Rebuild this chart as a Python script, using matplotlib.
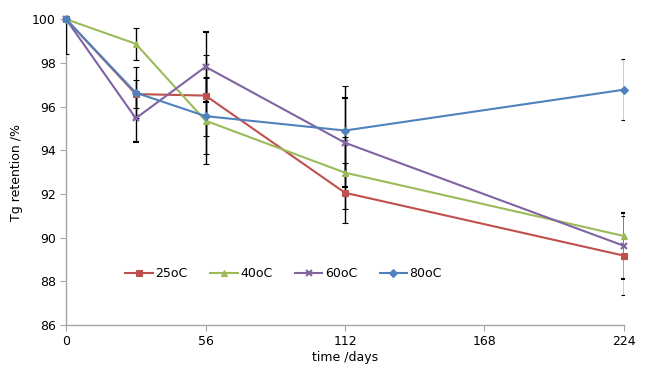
import matplotlib
matplotlib.use("Agg")
import matplotlib.pyplot as plt

days = [0, 28, 56, 112, 224]

tg_25 = [100.0, 96.57, 96.50, 92.05, 89.17]
tg_40 = [100.0, 98.87, 95.35, 92.97, 90.07]
tg_60 = [100.0, 95.46, 97.82, 94.34, 89.62]
tg_80 = [100.0, 96.63, 95.56, 94.90, 96.77]

err_25 = [0.0, 0.63, 1.85, 1.37, 1.80]
err_40 = [0.0, 0.73, 2.00, 1.65, 1.05]
err_60 = [0.0, 1.07, 1.60, 2.03, 1.50]
err_80 = [1.6, 1.17, 1.75, 2.03, 1.40]

labels = ["25oC", "40oC", "60oC", "80oC"]
colors = ["#C0504D", "#9BBB59", "#8064A2", "#4F81BD"]
markers = ["s", "^", "x", "D"]
msizes = [5, 5, 5, 4]

plt.rcParams['font.family'] = ['DejaVu Sans']

fig = plt.figure(figsize=(6.54, 3.76), dpi=100)
ax = fig.add_axes([0.101, 0.136, 0.853, 0.813])

series = [tg_25, tg_40, tg_60, tg_80]
errors = [err_25, err_40, err_60, err_80]

for vals, errs, lab, col, mk, ms in zip(series, errors, labels, colors, markers, msizes):
    eb = ax.errorbar(days, vals, yerr=errs, color=col, ecolor="black",
                     elinewidth=1.0, capsize=2, capthick=1.0,
                     marker=mk, markersize=ms, markeredgewidth=1.5 if mk == "x" else 0.8,
                     linewidth=1.5, label=lab, zorder=3)
    # markers may spill past the axes, error bars stay clipped
    eb[0].set_clip_on(False)

ax.set_xlim(0, 224)
ax.set_ylim(86, 100)
ax.set_xticks([0, 56, 112, 168, 224])
ax.set_yticks(range(86, 101, 2))

for side in ["top", "right"]:
    ax.spines[side].set_visible(False)
for side in ["left", "bottom"]:
    ax.spines[side].set_color("#A6A6A6")
    ax.spines[side].set_linewidth(1.0)
ax.tick_params(axis="both", colors="#A6A6A6", labelcolor="black",
               labelsize=9, length=4, direction="out")

ax.set_xlabel("time /days", fontsize=9, labelpad=2)
ax.set_ylabel("Tg retention /%", fontsize=9, labelpad=6)

handles, labs = ax.get_legend_handles_labels()
handles = [h[0] for h in handles]
ax.legend(handles, labs, loc="center", bbox_to_anchor=(0.39, 0.167), ncol=4,
          frameon=False, fontsize=9, handlelength=2.2, columnspacing=1.8,
          handletextpad=0.2)

fig.savefig("out.png", dpi=100)
